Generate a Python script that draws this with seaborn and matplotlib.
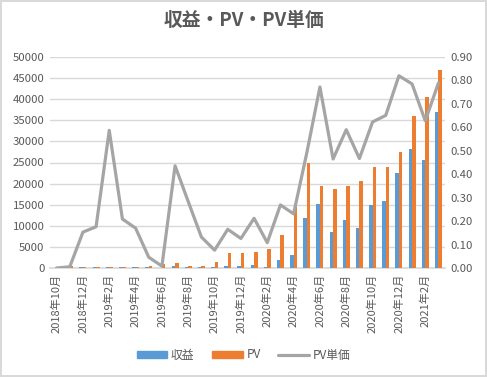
import matplotlib
matplotlib.use("Agg")
import matplotlib.pyplot as plt
from matplotlib.patches import Patch
from matplotlib.lines import Line2D
import pandas as pd
import seaborn as sns

months = [
    "2018年10月", "2018年11月", "2018年12月", "2019年1月", "2019年2月", "2019年3月",
    "2019年4月", "2019年5月", "2019年6月", "2019年7月", "2019年8月", "2019年9月",
    "2019年10月", "2019年11月", "2019年12月", "2020年1月", "2020年2月", "2020年3月",
    "2020年4月", "2020年5月", "2020年6月", "2020年7月", "2020年8月", "2020年9月",
    "2020年10月", "2020年11月", "2020年12月", "2021年1月", "2021年2月", "2021年3月",
]
revenue = [0, 5, 200, 200, 220, 200, 200, 200, 60, 400, 250, 200, 250, 450, 400,
           670, 350, 2010, 3120, 11940, 15090, 8630, 11470, 9580, 14860, 15800,
           22590, 28260, 25660, 36850]
pv = [0, 450, 300, 300, 300, 300, 300, 400, 900, 1100, 400, 400, 1350, 3450, 3500,
      3700, 4500, 7920, 14780, 24880, 19350, 18800, 19510, 20700, 24000, 24000,
      27550, 36070, 40560, 46950]
unit_price = [0.00, 0.005, 0.153, 0.176, 0.587, 0.209, 0.170, 0.046, 0.008, 0.436,
              0.283, 0.132, 0.076, 0.165, 0.126, 0.212, 0.108, 0.269, 0.231, 0.490,
              0.772, 0.465, 0.590, 0.467, 0.623, 0.651, 0.820, 0.785, 0.628, 0.789]

series_names = ["収益", "PV", "PV単価"]
colors = ["#5B9BD5", "#ED7D31", "#A5A5A5"]
text_color = "#595959"
grid_color = "#D9D9D9"

sns.set_theme(style="white")
plt.rcParams["font.family"] = ["Noto Sans CJK JP", "DejaVu Sans"]

bars = pd.DataFrame({"month": months, series_names[0]: revenue, series_names[1]: pv})
bars = bars.melt(id_vars="month", var_name="series", value_name="value")

fig = plt.figure(figsize=(4.87, 3.77), dpi=100)
fig.patch.set_edgecolor(grid_color)
fig.patch.set_linewidth(1.5)
ax = fig.add_axes([50 / 487, 1 - 268 / 377, 395 / 487, 211 / 377])

sns.barplot(data=bars, x="month", y="value", hue="series", order=months,
            hue_order=series_names[:2], palette=colors[:2], width=0.52, gap=0,
            saturation=1, errorbar=None, ax=ax, legend=False, linewidth=0)

ax2 = ax.twinx()
sns.pointplot(x=months, y=unit_price, order=months, color=colors[2], markers="",
              linestyles="-", errorbar=None, ax=ax2, linewidth=2.3)

ax.set_ylim(0, 50000)
ax.set_yticks(range(0, 50001, 5000))
ax2.set_ylim(0, 0.9)
ax2.set_yticks([i / 10 for i in range(10)])
ax2.set_yticklabels([f"{i / 10:.2f}" for i in range(10)])
ax.set_xlim(-0.5, len(months) - 0.5)

ax.grid(axis="y", color=grid_color, linewidth=1)
ax.set_axisbelow(True)
for a in (ax, ax2):
    for side in ("top", "left", "right"):
        a.spines[side].set_visible(False)
    a.set_xlabel("")
    a.set_ylabel("")
    a.tick_params(axis="y", length=0, labelsize=8.2, labelcolor=text_color, pad=4)
ax.spines["bottom"].set_color(grid_color)
ax.spines["bottom"].set_zorder(0.5)
ax2.spines["bottom"].set_visible(False)

ax.set_xticks(range(0, len(months), 2))
ax.set_xticklabels(months[::2], rotation=90, fontsize=8, color=text_color)
ax.tick_params(axis="x", length=0, pad=4)
ax.set_xticks([i - 0.5 for i in range(0, len(months), 2)], minor=True)
ax.tick_params(axis="x", which="minor", length=4, color=grid_color, width=1)

fig.suptitle("収益・PV・PV単価", x=0.5, y=0.97, fontsize=13.5, fontweight="bold",
             color=text_color)

handles = [Patch(color=colors[0]), Patch(color=colors[1]),
           Line2D([], [], color=colors[2], linewidth=2.3)]
fig.legend(handles, series_names, loc="center", bbox_to_anchor=(0.5, 1 - 355 / 377),
           ncol=3, frameon=False, fontsize=8.5, labelcolor=text_color,
           handlelength=2.6, handleheight=0.5, columnspacing=1.5, handletextpad=0.3)

fig.savefig("out.png", dpi=100)
